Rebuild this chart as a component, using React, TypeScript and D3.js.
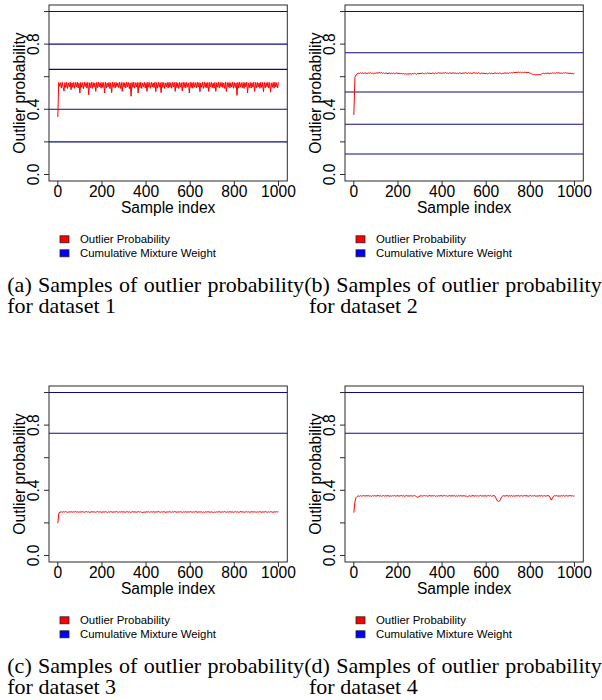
import React from 'react';
import * as d3 from 'd3';

const W = 602;
const H = 700;

// Axis ticks
const xTickValues = [0, 200, 400, 600, 800, 1000];
const yTickValues = [0, 0.2, 0.4, 0.6, 0.8, 1.0];
const yLabelValues = [0, 0.4, 0.8];
const yLabelTexts = ['0.0', '0.4', '0.8'];

// Legend entries
const legendLabels = ['Outlier Probability', 'Cumulative Mixture Weight'];
const legendColors = ['#ff0000', '#0000ff'];

// Captions
const captionLine1 = [
  '(a) Samples of outlier probability',
  '(b) Samples of outlier probability',
  '(c) Samples of outlier probability',
  '(d) Samples of outlier probability',
];
const captionLine2 = ['for dataset 1', 'for dataset 2', 'for dataset 3', 'for dataset 4'];

// Cumulative mixture weights (horizontal lines)
const weightsA = [0.2, 0.4, 0.645, 0.8, 1.0];
const weightsB = [0.126, 0.308, 0.506, 0.747, 1.0];
const weightsC = [0.75, 1.0];
const weightsD = [0.75, 1.0];

// Outlier probability samples (dataset 1 every 4th sample, others every 5th)
const stepA = 4;
const samplesA = [
  0.353, 0.565, 0.541, 0.563, 0.530, 0.566, 0.536, 0.512, 0.564, 0.533,
  0.565, 0.528, 0.562, 0.538, 0.566, 0.520, 0.563, 0.534, 0.565, 0.529,
  0.564, 0.537, 0.566, 0.531, 0.562, 0.500, 0.565, 0.535, 0.563, 0.527,
  0.566, 0.539, 0.564, 0.530, 0.565, 0.490, 0.563, 0.533, 0.566, 0.528,
  0.564, 0.536, 0.562, 0.510, 0.565, 0.532, 0.566, 0.538, 0.563, 0.529,
  0.565, 0.534, 0.564, 0.500, 0.566, 0.531, 0.562, 0.537, 0.565, 0.527,
  0.563, 0.502, 0.566, 0.535, 0.564, 0.530, 0.565, 0.539, 0.562, 0.533,
  0.566, 0.528, 0.564, 0.510, 0.565, 0.536, 0.563, 0.531, 0.566, 0.538,
  0.564, 0.527, 0.562, 0.480, 0.565, 0.534, 0.566, 0.530, 0.563, 0.537,
  0.565, 0.500, 0.564, 0.532, 0.566, 0.528, 0.562, 0.538, 0.565, 0.531,
  0.563, 0.510, 0.566, 0.535, 0.564, 0.529, 0.565, 0.537, 0.562, 0.533,
  0.566, 0.508, 0.564, 0.530, 0.565, 0.536, 0.563, 0.502, 0.566, 0.534,
  0.564, 0.528, 0.562, 0.538, 0.565, 0.531, 0.566, 0.535, 0.563, 0.529,
  0.565, 0.537, 0.564, 0.510, 0.566, 0.532, 0.562, 0.528, 0.565, 0.536,
  0.563, 0.512, 0.566, 0.534, 0.564, 0.530, 0.565, 0.538, 0.562, 0.500,
  0.566, 0.533, 0.564, 0.529, 0.565, 0.536, 0.563, 0.531, 0.566, 0.537,
  0.564, 0.508, 0.562, 0.535, 0.565, 0.528, 0.566, 0.534, 0.563, 0.530,
  0.565, 0.510, 0.564, 0.537, 0.566, 0.532, 0.562, 0.529, 0.565, 0.510,
  0.563, 0.535, 0.566, 0.530, 0.564, 0.538, 0.565, 0.533, 0.562, 0.528,
  0.566, 0.509, 0.564, 0.536, 0.565, 0.531, 0.563, 0.537, 0.566, 0.529,
  0.564, 0.534, 0.562, 0.485, 0.565, 0.530, 0.566, 0.536, 0.563, 0.532,
  0.565, 0.528, 0.564, 0.538, 0.566, 0.500, 0.562, 0.533, 0.565, 0.530,
  0.563, 0.536, 0.566, 0.510, 0.564, 0.531, 0.565, 0.537, 0.562, 0.529,
  0.566, 0.534, 0.564, 0.508, 0.565, 0.532, 0.563, 0.538, 0.566, 0.530,
  0.564, 0.505, 0.562, 0.535, 0.565, 0.529, 0.566, 0.536, 0.563, 0.531,
  0.565,
];

const stepB = 5;
const samplesB = [
  0.365, 0.595, 0.612, 0.618, 0.622, 0.619, 0.624, 0.620, 0.623, 0.618, 0.625, 0.621, 0.619, 0.624, 0.620, 0.626, 0.619, 0.622, 0.618, 0.623,
  0.620, 0.625, 0.621, 0.627, 0.622, 0.626, 0.620, 0.624, 0.619, 0.623, 0.621, 0.618, 0.624, 0.620, 0.622, 0.619, 0.623, 0.618, 0.621, 0.624,
  0.619, 0.622, 0.618, 0.621, 0.617, 0.620, 0.616, 0.619, 0.615, 0.618, 0.616, 0.620, 0.615, 0.619, 0.617, 0.621, 0.618, 0.616, 0.620, 0.618,
  0.621, 0.619, 0.623, 0.620, 0.618, 0.622, 0.619, 0.624, 0.620, 0.622, 0.618, 0.623, 0.621, 0.619, 0.624, 0.620, 0.622, 0.625, 0.621, 0.623,
  0.620, 0.624, 0.622, 0.626, 0.621, 0.623, 0.619, 0.624, 0.622, 0.620, 0.625, 0.621, 0.623, 0.619, 0.622, 0.620, 0.624, 0.621, 0.619, 0.623,
  0.621, 0.625, 0.622, 0.620, 0.624, 0.621, 0.623, 0.619, 0.622, 0.626, 0.621, 0.623, 0.620, 0.624, 0.621, 0.619, 0.623, 0.620, 0.622, 0.618,
  0.621, 0.617, 0.620, 0.623, 0.619, 0.622, 0.618, 0.621, 0.624, 0.620, 0.622, 0.619, 0.623, 0.621, 0.618, 0.622, 0.620, 0.624, 0.621, 0.623,
  0.620, 0.624, 0.622, 0.626, 0.623, 0.627, 0.624, 0.628, 0.625, 0.629, 0.626, 0.628, 0.624, 0.627, 0.625, 0.628, 0.626, 0.624, 0.627, 0.623,
  0.621, 0.618, 0.615, 0.612, 0.614, 0.610, 0.613, 0.611, 0.614, 0.612, 0.616, 0.619, 0.621, 0.618, 0.622, 0.620, 0.623, 0.619, 0.622, 0.620,
  0.624, 0.621, 0.623, 0.620, 0.625, 0.622, 0.624, 0.621, 0.623, 0.620, 0.624, 0.622, 0.625, 0.621, 0.623, 0.620, 0.622, 0.619, 0.621, 0.618,
  0.619,
];

const stepC = 5;
const samplesC = [
  0.198, 0.262, 0.266, 0.268, 0.265, 0.269, 0.266, 0.270, 0.267, 0.264, 0.268, 0.266, 0.269, 0.265, 0.268, 0.267, 0.270, 0.266, 0.268, 0.265,
  0.268, 0.266, 0.269, 0.267, 0.265, 0.268, 0.270, 0.266, 0.268, 0.264, 0.267, 0.269, 0.266, 0.268, 0.265, 0.267, 0.270, 0.266, 0.268, 0.267,
  0.265, 0.268, 0.266, 0.269, 0.267, 0.264, 0.268, 0.266, 0.269, 0.267, 0.265, 0.268, 0.266, 0.270, 0.267, 0.265, 0.268, 0.266, 0.269, 0.266,
  0.268, 0.265, 0.267, 0.269, 0.266, 0.268, 0.264, 0.267, 0.269, 0.266, 0.268, 0.265, 0.267, 0.270, 0.266, 0.268, 0.265, 0.263, 0.267, 0.265,
  0.268, 0.266, 0.269, 0.265, 0.267, 0.268, 0.266, 0.269, 0.265, 0.268, 0.266, 0.270, 0.267, 0.265, 0.268, 0.266, 0.269, 0.267, 0.264, 0.268,
  0.266, 0.269, 0.267, 0.265, 0.268, 0.266, 0.270, 0.267, 0.265, 0.268, 0.266, 0.269, 0.267, 0.264, 0.268, 0.266, 0.269, 0.265, 0.268, 0.266,
  0.269, 0.267, 0.265, 0.268, 0.266, 0.270, 0.267, 0.265, 0.268, 0.266, 0.269, 0.264, 0.267, 0.265, 0.268, 0.266, 0.269, 0.267, 0.265, 0.268,
  0.266, 0.263, 0.267, 0.265, 0.268, 0.266, 0.269, 0.267, 0.265, 0.268, 0.266, 0.270, 0.267, 0.265, 0.268, 0.266, 0.269, 0.266, 0.268, 0.265,
  0.267, 0.269, 0.266, 0.268, 0.265, 0.267, 0.270, 0.266, 0.268, 0.265, 0.267, 0.269, 0.266, 0.268, 0.265, 0.267, 0.269, 0.266, 0.268, 0.267,
  0.265, 0.268, 0.266, 0.269, 0.267, 0.265, 0.268, 0.266, 0.270, 0.267, 0.265, 0.268, 0.266, 0.269, 0.267, 0.265, 0.268, 0.266, 0.269, 0.267,
  0.268,
];

const stepD = 5;
const samplesD = [
  0.263, 0.330, 0.355, 0.362, 0.366, 0.363, 0.367, 0.364, 0.366, 0.368, 0.364, 0.367, 0.365, 0.368, 0.364, 0.366, 0.363, 0.367, 0.365, 0.368,
  0.364, 0.366, 0.368, 0.365, 0.367, 0.363, 0.366, 0.368, 0.364, 0.367, 0.365, 0.368, 0.363, 0.366, 0.364, 0.367, 0.365, 0.368, 0.364, 0.366,
  0.367, 0.364, 0.366, 0.368, 0.365, 0.367, 0.363, 0.366, 0.368, 0.364, 0.366, 0.365, 0.367, 0.364, 0.366, 0.368, 0.364, 0.360, 0.356, 0.362,
  0.365, 0.367, 0.364, 0.366, 0.368, 0.365, 0.367, 0.363, 0.366, 0.368, 0.364, 0.367, 0.365, 0.368, 0.363, 0.366, 0.364, 0.367, 0.365, 0.368,
  0.364, 0.366, 0.368, 0.365, 0.367, 0.363, 0.366, 0.368, 0.364, 0.367, 0.365, 0.368, 0.363, 0.366, 0.364, 0.367, 0.365, 0.368, 0.364, 0.366,
  0.367, 0.364, 0.366, 0.359, 0.364, 0.367, 0.363, 0.366, 0.368, 0.364, 0.366, 0.365, 0.367, 0.364, 0.366, 0.368, 0.364, 0.366, 0.365, 0.367,
  0.364, 0.366, 0.368, 0.365, 0.367, 0.363, 0.366, 0.368, 0.364, 0.350, 0.336, 0.331, 0.333, 0.345, 0.360, 0.365, 0.367, 0.364, 0.366, 0.368,
  0.364, 0.367, 0.365, 0.368, 0.363, 0.366, 0.364, 0.367, 0.365, 0.368, 0.364, 0.366, 0.367, 0.364, 0.366, 0.368, 0.365, 0.367, 0.363, 0.366,
  0.368, 0.364, 0.367, 0.365, 0.368, 0.363, 0.366, 0.364, 0.367, 0.365, 0.368, 0.364, 0.366, 0.367, 0.364, 0.366, 0.368, 0.365, 0.355, 0.340,
  0.352, 0.364, 0.367, 0.365, 0.368, 0.363, 0.366, 0.364, 0.367, 0.365, 0.368, 0.364, 0.366, 0.367, 0.364, 0.366, 0.368, 0.365, 0.367, 0.364,
  0.366,
];

// ---- layout ----
const BOX_X0 = 49;
const BOX_X1 = 287.3;
const BOX_Y0 = 5;
const BOX_Y1 = 181;
const COL_DX = 296;
const ROW_DY = 381;

const SANS = 'Liberation Sans, Arial, Helvetica, sans-serif';
const SERIF = 'Liberation Serif, Times New Roman, Times, serif';
const CAP_FONT = 22;

let measureCtx: CanvasRenderingContext2D | null = null;
function measure(text: string, font: string): number {
  if (!measureCtx) {
    const c = document.createElement('canvas');
    measureCtx = c.getContext('2d');
  }
  if (!measureCtx) return text.length * 8;
  measureCtx.font = font;
  return measureCtx.measureText(text).width;
}

function Justified({ text, x0, x1, y }: { text: string; x0: number; x1: number; y: number }) {
  const words = text.split(' ');
  const font = `${CAP_FONT}px "Liberation Serif"`;
  const widths = words.map((w) => measure(w, font));
  const total = d3.sum(widths);
  const gap = (x1 - x0 - total) / (words.length - 1);
  let cx = x0;
  const xs = widths.map((w) => {
    const p = cx;
    cx += w + gap;
    return p;
  });
  return (
    <g>
      {words.map((w, i) => (
        <text key={i} x={xs[i]} y={y} fontFamily={SERIF} fontSize={CAP_FONT} fill="#000">
          {w}
        </text>
      ))}
    </g>
  );
}

function Panel({
  ox,
  oy,
  samples,
  step,
  weights,
}: {
  ox: number;
  oy: number;
  samples: number[];
  step: number;
  weights: number[];
}) {
  const x = d3.scaleLinear().domain([-40, 1040]).range([BOX_X0, BOX_X1]);
  const y = d3.scaleLinear().domain([-0.04, 1.04]).range([BOX_Y1, BOX_Y0]);
  const line = d3
    .line<number>()
    .x((_, i) => x(i * step))
    .y((d) => y(d));
  const axisCol = '#2b2b2b';
  const midX = (BOX_X0 + BOX_X1) / 2;
  const midY = (BOX_Y0 + BOX_Y1) / 2;
  return (
    <g transform={`translate(${ox},${oy})`}>
      {/* mixture weight lines */}
      {weights.map((w, i) => (
        <line key={i} x1={BOX_X0} x2={BOX_X1} y1={y(w)} y2={y(w)} stroke="#0c0c86" strokeWidth={1.1} />
      ))}
      {/* outlier probability */}
      <path d={line(samples) || ''} fill="none" stroke="#ff0000" strokeWidth={1} strokeLinejoin="miter" />
      {/* box */}
      <rect
        x={BOX_X0}
        y={BOX_Y0}
        width={BOX_X1 - BOX_X0}
        height={BOX_Y1 - BOX_Y0}
        fill="none"
        stroke={axisCol}
        strokeWidth={1}
      />
      {/* y axis */}
      {yTickValues.map((v) => (
        <line key={v} x1={BOX_X0 - 5} x2={BOX_X0} y1={y(v)} y2={y(v)} stroke={axisCol} strokeWidth={1} />
      ))}
      {yLabelValues.map((v, i) => (
        <text
          key={v}
          transform={`translate(${BOX_X0 - 9.7},${y(v)}) rotate(-90)`}
          textAnchor="middle"
          fontFamily={SANS}
          fontSize={15.6}
          fill="#000"
        >
          {yLabelTexts[i]}
        </text>
      ))}
      <text
        transform={`translate(${24.8},${midY}) rotate(-90)`}
        textAnchor="middle"
        fontFamily={SANS}
        fontSize={15.6}
        fill="#000"
      >
        Outlier probability
      </text>
      {/* x axis */}
      {xTickValues.map((v) => (
        <line key={v} x1={x(v)} x2={x(v)} y1={BOX_Y1} y2={BOX_Y1 + 5} stroke={axisCol} strokeWidth={1} />
      ))}
      {xTickValues.map((v) => (
        <text key={v} x={x(v)} y={197.3} textAnchor="middle" fontFamily={SANS} fontSize={15.6} fill="#000">
          {d3.format('d')(v)}
        </text>
      ))}
      <text x={midX} y={213.2} textAnchor="middle" fontFamily={SANS} fontSize={15.6} fill="#000">
        Sample index
      </text>
      {/* legend */}
      {legendLabels.map((lab, i) => (
        <g key={lab} transform={`translate(0,${239.3 + i * 14})`}>
          <rect x={60} y={-3.5} width={9} height={7} fill={legendColors[i]} stroke="#222" strokeWidth={0.8} />
          <text x={80} y={4} fontFamily={SANS} fontSize={11.4} fill="#000">
            {lab}
          </text>
        </g>
      ))}
    </g>
  );
}

export default function App() {
  const panels = [
    { samples: samplesA, step: stepA, weights: weightsA },
    { samples: samplesB, step: stepB, weights: weightsB },
    { samples: samplesC, step: stepC, weights: weightsC },
    { samples: samplesD, step: stepD, weights: weightsD },
  ];
  const capStarts = [7.3, 304.3];
  const capEnds = [304, 601.7];
  const line2Starts = [7.3, 309];
  return (
    <div style={{ position: 'absolute', left: 0, top: 0, width: W, height: H, background: '#fff' }}>
      <svg width={W} height={H} viewBox={`0 0 ${W} ${H}`} style={{ display: 'block' }}>
        <rect x={0} y={0} width={W} height={H} fill="#fff" />
        {panels.map((p, k) => {
          const col = k % 2;
          const row = Math.floor(k / 2);
          return (
            <g key={k}>
              <Panel ox={col * COL_DX} oy={row * ROW_DY} samples={p.samples} step={p.step} weights={p.weights} />
              <Justified text={captionLine1[k]} x0={capStarts[col]} x1={capEnds[col]} y={292 + row * ROW_DY} />
              <text x={line2Starts[col]} y={313 + row * ROW_DY} fontFamily={SERIF} fontSize={CAP_FONT} fill="#000">
                {captionLine2[k]}
              </text>
            </g>
          );
        })}
      </svg>
    </div>
  );
}
